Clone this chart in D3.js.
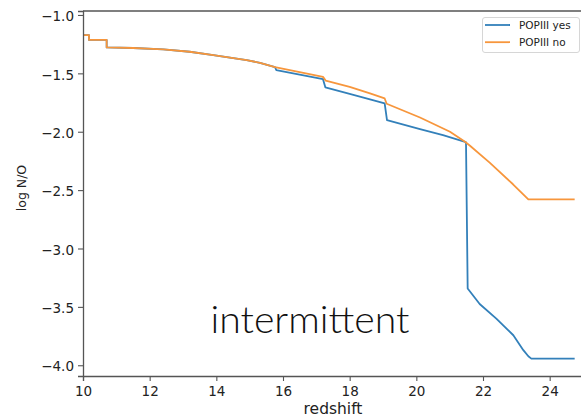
<!DOCTYPE html>
<html>
<head>
<meta charset="utf-8">
<script src="https://cdn.jsdelivr.net/npm/d3@7"></script>
<style>
  html, body { margin: 0; padding: 0; background: #fff; overflow: hidden; }
  svg { display: block; }
</style>
</head>
<body>
<svg id="chart" width="581" height="417"></svg>
<script>
// N/O abundance ratio versus redshift, with and without Population III stars
const zYes = [10, 10.18, 10.18, 10.71, 10.71, 11.5, 12.41, 13.2, 13.91, 14.91, 15.31, 15.76, 15.8, 16.5, 17.2, 17.27,
              18.0, 18.61, 19.05, 19.12, 20.11, 20.8, 21.46, 21.49, 21.54, 21.9, 22.4, 22.91, 23.21, 23.36, 23.45, 24.75];
const logNOYes = [-1.172, -1.172, -1.214, -1.214, -1.278, -1.283, -1.294, -1.315, -1.343, -1.386, -1.41, -1.447, -1.472, -1.511, -1.55, -1.62,
                  -1.675, -1.723, -1.758, -1.9, -1.978, -2.03, -2.086, -2.09, -3.343, -3.475, -3.6, -3.743, -3.871, -3.923, -3.943, -3.943];

const zNo = [10, 10.18, 10.18, 10.71, 10.71, 11.5, 12.41, 13.2, 13.91, 14.91, 15.31, 15.76, 16.5, 17.2, 17.28,
             18.0, 18.61, 19.05, 19.11, 20.11, 21.01, 21.46, 21.61, 22.2, 22.9, 23.36, 24.75];
const logNONo = [-1.172, -1.172, -1.214, -1.214, -1.278, -1.283, -1.294, -1.315, -1.343, -1.386, -1.41, -1.447, -1.49, -1.53, -1.562,
                 -1.615, -1.671, -1.715, -1.76, -1.878, -2.0, -2.086, -2.12, -2.265, -2.45, -2.58, -2.58];

const seriesNames = ["POPIII yes", "POPIII no"];
const seriesColors = ["#3380ba", "#f7963c"];
const xTicks = [10, 12, 14, 16, 18, 20, 22, 24];
const yTicks = [-4.0, -3.5, -3.0, -2.5, -2.0, -1.5, -1.0];
const xLimits = [10, 25];
const yLimits = [-4.092, -0.966];

const svg = d3.select("#chart");
const plot = { left: 83, right: 583, top: 11, bottom: 376 };

const x = d3.scaleLinear().domain(xLimits).range([plot.left, plot.right]);
const y = d3.scaleLinear().domain(yLimits).range([plot.bottom, plot.top]);

const fmt = v => d3.format(".1f")(v).replace("-", "\u2212");
const axisColor = "#555";
const tickFont = "DejaVu Sans, sans-serif";

// clip region for the data lines
svg.append("defs").append("clipPath").attr("id", "plotClip")
  .append("rect")
  .attr("x", plot.left).attr("y", plot.top)
  .attr("width", plot.right - plot.left).attr("height", plot.bottom - plot.top);

// series lines
const line = d3.line().x(d => x(d[0])).y(d => y(d[1]));
const series = [d3.zip(zYes, logNOYes), d3.zip(zNo, logNONo)];
const lines = svg.append("g").attr("clip-path", "url(#plotClip)");
series.forEach((pts, i) => {
  lines.append("path")
    .datum(pts)
    .attr("d", line)
    .attr("fill", "none")
    .attr("stroke", seriesColors[i])
    .attr("stroke-width", 1.8)
    .attr("stroke-linejoin", "round")
    .attr("stroke-linecap", "butt");
});

// axes
const xAxis = svg.append("g")
  .attr("transform", `translate(0,${plot.bottom})`)
  .call(d3.axisBottom(x).tickValues(xTicks).tickFormat(d3.format("d")).tickSizeOuter(0).tickSize(5).tickPadding(4));
const yAxis = svg.append("g")
  .attr("transform", `translate(${plot.left},0)`)
  .call(d3.axisLeft(y).tickValues(yTicks).tickFormat(fmt).tickSizeOuter(0).tickSize(5).tickPadding(4));

[xAxis, yAxis].forEach(g => {
  g.select(".domain").attr("stroke", axisColor).attr("stroke-width", 1.3);
  g.selectAll(".tick line").attr("stroke", axisColor).attr("stroke-width", 1.1);
  g.selectAll(".tick text")
    .attr("fill", "#222")
    .style("font-family", tickFont)
    .style("font-size", "13.5px");
});
yAxis.selectAll(".tick text").attr("dy", "0.42em");
xAxis.selectAll(".tick text").attr("dy", "0.85em");

// top spine
svg.append("line")
  .attr("x1", plot.left).attr("x2", plot.right)
  .attr("y1", plot.top).attr("y2", plot.top)
  .attr("stroke", axisColor).attr("stroke-width", 1.3);

// axis titles
svg.append("text")
  .attr("x", (plot.left + plot.right) / 2)
  .attr("y", 414)
  .attr("text-anchor", "middle")
  .attr("fill", "#222")
  .style("font-family", tickFont)
  .style("font-size", "15.5px")
  .text("redshift");

svg.append("text")
  .attr("transform", `translate(26,188) rotate(-90)`)
  .attr("text-anchor", "middle")
  .attr("fill", "#222")
  .style("font-family", tickFont)
  .style("font-size", "12.5px")
  .text("log N/O");

// legend
const legend = svg.append("g");
legend.append("rect")
  .attr("x", 482.5).attr("y", 17.5)
  .attr("width", 97).attr("height", 35)
  .attr("rx", 2.5)
  .attr("fill", "#fff")
  .attr("stroke", "#d6d6d6")
  .attr("stroke-width", 1);
seriesNames.forEach((name, i) => {
  const ly = 25 + i * 17.2;
  legend.append("line")
    .attr("x1", 485).attr("x2", 510)
    .attr("y1", ly).attr("y2", ly)
    .attr("stroke", seriesColors[i]).attr("stroke-width", 1.8);
  legend.append("text")
    .attr("x", 519).attr("y", ly)
    .attr("dy", "0.36em")
    .attr("fill", "#222")
    .style("font-family", tickFont)
    .style("font-size", "10.5px")
    .text(name);
});

// annotation
svg.append("text")
  .attr("x", 210.5)
  .attr("y", 333)
  .attr("fill", "#111")
  .attr("textLength", 199)
  .attr("lengthAdjust", "spacingAndGlyphs")
  .style("font-family", "Lato, 'Open Sans', sans-serif")
  .style("font-weight", 300)
  .style("font-size", "37px")
  .text("intermittent");
</script>
</body>
</html>
